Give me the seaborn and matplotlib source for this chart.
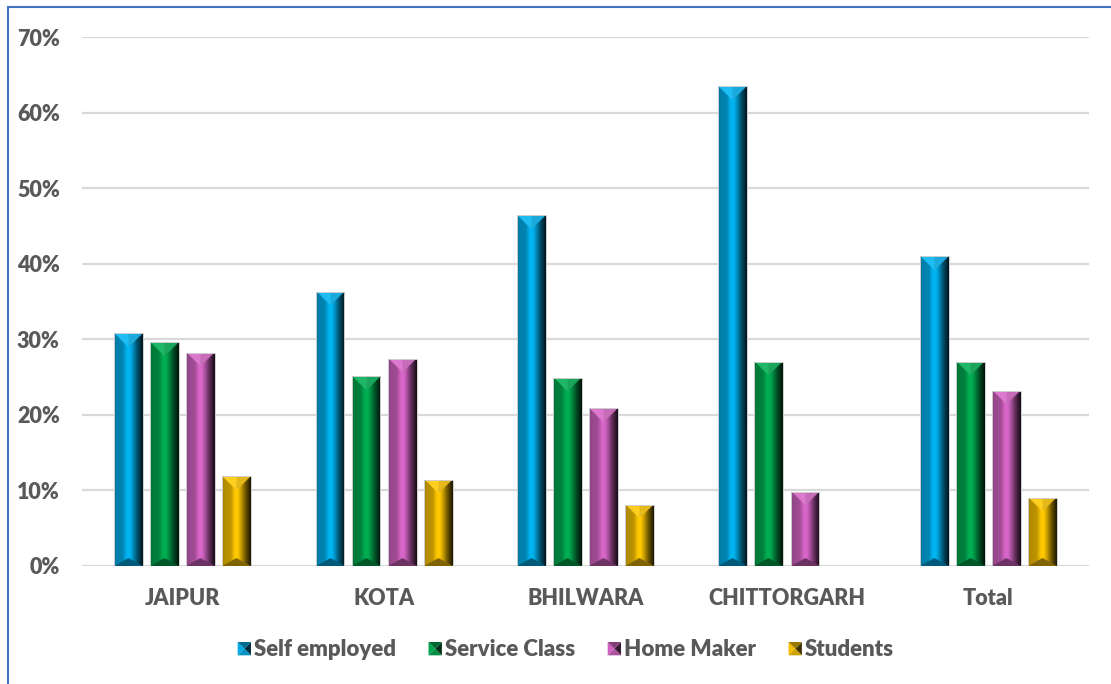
import numpy as np
import pandas as pd
import matplotlib
matplotlib.use("Agg")
import matplotlib.pyplot as plt
from matplotlib.patches import Rectangle, Polygon
from matplotlib.legend_handler import HandlerBase
from matplotlib.colors import to_rgb
import seaborn as sns

# ---- data ---------------------------------------------------------------
districts = ["JAIPUR", "KOTA", "BHILWARA", "CHITTORGARH", "Total"]
occupations = ["Self employed", "Service Class", "Home Maker", "Students"]
self_employed = [30.8, 36.3, 46.4, 63.5, 41.0]
service_class = [29.6, 25.1, 24.9, 27.0, 27.0]
home_maker = [28.2, 27.4, 20.9, 9.8, 23.2]
students = [11.9, 11.4, 8.1, 0.0, 9.0]
y_ticks = [0, 10, 20, 30, 40, 50, 60, 70]

base_colors = ["#00B4F2", "#00AE52", "#D866C8", "#FFC800"]

df = pd.DataFrame({
    "District": districts * 4,
    "Occupation": np.repeat(occupations, len(districts)),
    "Share": self_employed + service_class + home_maker + students,
})

# ---- figure -------------------------------------------------------------
sns.set_theme(style="white")
plt.rcParams["font.family"] = ["Lato", "DejaVu Sans"]
TXT = "#595959"
WEIGHT = "heavy"

W, H = 1111, 684
fig = plt.figure(figsize=(W / 100, H / 100), dpi=100)
ax = fig.add_axes([82 / W, (H - 566) / H, (1089 - 82) / W, (566 - 37) / H])

sns.barplot(data=df, x="District", y="Share", hue="Occupation",
            hue_order=occupations, order=districts, palette=base_colors,
            width=0.716, gap=0.2, saturation=1, legend=False, ax=ax,
            edgecolor="none", zorder=2)

ax.set_xlim(-0.5, len(districts) - 0.5)
ax.set_ylim(0, 70)
ax.set_yticks(y_ticks)
ax.set_yticklabels([f"{t}%" for t in y_ticks])
ax.set_xlabel("")
ax.set_ylabel("")
for s in ax.spines.values():
    s.set_visible(False)
ax.yaxis.grid(True, color="#D9D9D9", lw=1.6, zorder=0)
ax.set_axisbelow(True)
ax.tick_params(axis="y", length=0, pad=16, labelsize=15.5, labelcolor=TXT)
ax.tick_params(axis="x", length=0, pad=15.5, labelsize=15.5, labelcolor=TXT)
for lab in ax.get_xticklabels() + ax.get_yticklabels():
    lab.set_fontweight(WEIGHT)

# ---- bevelled column shading -------------------------------------------
prof_u = [0.0, 0.08, 0.30, 0.45, 0.55, 0.65, 0.80, 0.95, 1.0]
prof_f = [0.62, 0.70, 0.74, 1.0, 1.0, 0.80, 0.45, 0.18, 0.12]


def bevel_image(color, wpx, hpx, scale=3):
    c = np.array(to_rgb(color))
    nw = max(int(wpx * scale), 2)
    nh = max(int(hpx * scale), 2)
    u = (np.arange(nw) + 0.5) / nw
    f = np.interp(u, prof_u, prof_f)
    img = np.tile((c[None, :] * f[:, None])[None, :, :], (nh, 1, 1))
    rows = np.arange(nh)[:, None] + 0.5
    half = np.minimum(u, 1 - u)[None, :]
    # top pyramid face
    top = rows < half * nw
    light = c + (1 - c) * 0.12
    shade_top = np.where(u < 0.5, 1.0, 0.9)[None, :]
    top_col = light[None, None, :] * shade_top[..., None]
    img = np.where(top[..., None], np.broadcast_to(top_col, img.shape), img)
    # bottom pyramid face
    rb = nh - rows
    bot = rb < half * nw * 0.55
    bot_col = c * 0.5
    img = np.where(bot[..., None], bot_col[None, None, :], img)
    return np.clip(img, 0, 1)


fig.canvas.draw()
for ci, cont in enumerate(ax.containers):
    for bar in cont:
        h = bar.get_height()
        if h <= 0:
            continue
        x0, w = bar.get_x(), bar.get_width()
        p0 = ax.transData.transform((x0, 0))
        p1 = ax.transData.transform((x0 + w, h))
        wpx, hpx = p1[0] - p0[0], p1[1] - p0[1]
        img = bevel_image(base_colors[ci], wpx, hpx)
        im = ax.imshow(img, extent=(x0, x0 + w, 0, h), aspect="auto",
                       origin="upper", interpolation="antialiased", zorder=3)
        im.set_clip_path(bar)
        ax.add_patch(Rectangle((x0, 0), w, h, fill=False,
                               edgecolor="#CFCFCF", lw=0.7, zorder=4))

ax.set_xlim(-0.5, len(districts) - 0.5)
ax.set_ylim(0, 70)
ax.set_aspect("auto")


# ---- legend with bevelled swatches -------------------------------------
class BevelHandler(HandlerBase):
    def create_artists(self, legend, orig, xd, yd, width, height, fontsize, trans):
        c = np.array(to_rgb(orig.get_facecolor()))
        s = min(width, height)
        x0 = -xd + (width - s) / 2
        y0 = -yd + (height - s) / 2
        cx, cy = x0 + s / 2, y0 + s / 2
        pts = {
            "l": [(x0, y0), (x0, y0 + s), (cx, cy)],
            "r": [(x0 + s, y0), (x0 + s, y0 + s), (cx, cy)],
            "t": [(x0, y0 + s), (x0 + s, y0 + s), (cx, cy)],
            "b": [(x0, y0), (x0 + s, y0), (cx, cy)],
        }
        cols = {"l": c * 0.95, "r": c * 0.25, "t": c * 0.6, "b": c * 0.8}
        arts = []
        for k in ("l", "r", "t", "b"):
            p = Polygon(pts[k], closed=True, facecolor=np.clip(cols[k], 0, 1),
                        edgecolor="none", transform=trans)
            arts.append(p)
        return arts


handles = [Rectangle((0, 0), 1, 1, facecolor=c) for c in base_colors]
leg = fig.legend(handles, occupations, loc="center",
                 bbox_to_anchor=(566 / W, (H - 650) / H), ncol=4,
                 frameon=False, handlelength=0.6, handleheight=0.6,
                 handletextpad=0.15, columnspacing=1.45,
                 handler_map={Rectangle: BevelHandler()},
                 prop={"weight": WEIGHT, "size": 16})
for t in leg.get_texts():
    t.set_color(TXT)

# ---- outer frame --------------------------------------------------------
frame = Rectangle((8 / W, -0.05), 1.2, (H - 7) / H + 0.05,
                  transform=fig.transFigure, fill=False,
                  edgecolor="#4472C4", lw=1.5, zorder=10)
fig.patches.append(frame)

fig.savefig("out.png", dpi=100, facecolor="white")
